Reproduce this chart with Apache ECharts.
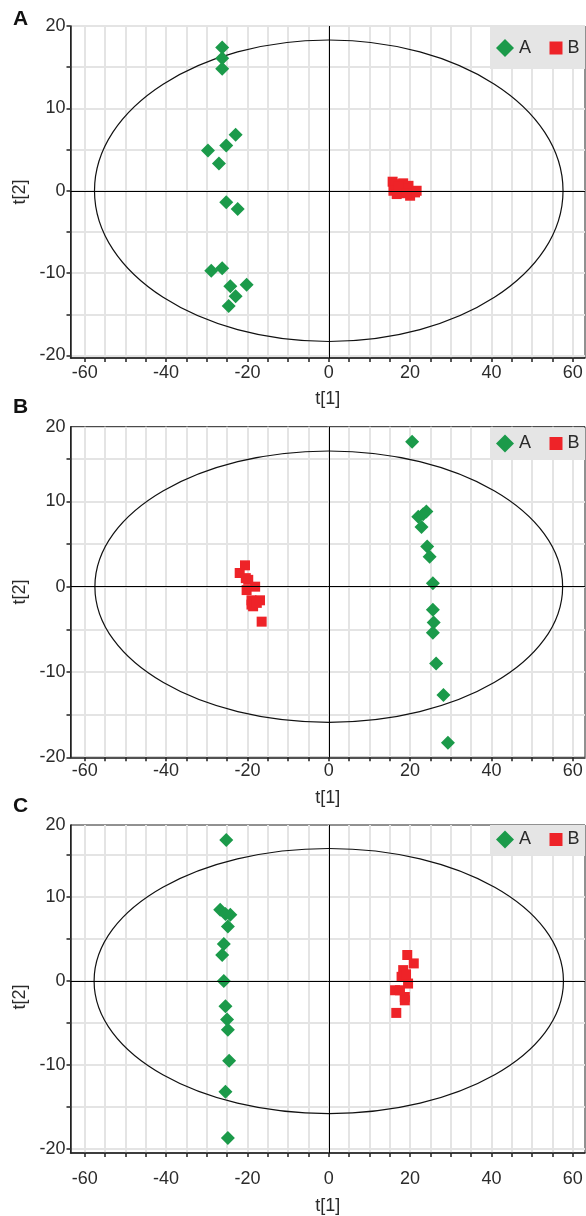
<!DOCTYPE html>
<html><head><meta charset="utf-8">
<script src="https://cdn.jsdelivr.net/npm/echarts@6/dist/echarts.min.js"></script>
<style>html,body{margin:0;padding:0;background:#fff}#c{width:586px;height:1216px}</style>
</head><body><div id="c"></div><script>
// ---- data ----
const panelLetters = ['A', 'B', 'C'];
const groupNames = ['A', 'B'];
const xTickValues = [-60,-55,-50,-45,-40,-35,-30,-25,-20,-15,-10,-5,0,5,10,15,20,25,30,35,40,45,50,55,60];
const xLabelValues = [-60,-40,-20,0,20,40,60];
const yTickValues = [-20,-15,-10,-5,0,5,10,15,20];
const yLabelTexts = ['-20','-10','0','10','20'];
const yLabelValuesA = [-20,-10,0,10,20];
const yLabelValuesB = [-20,-10,0,10,18.75];
const yLabelValuesC = [-20,-10,0,10,18.6];
const xTitle = 't[1]';
const yTitle = 't[2]';

const panelA_A = [[-26.2,17.4],[-26.2,16.1],[-26.2,14.8],[-22.9,6.8],[-25.2,5.5],[-29.7,4.9],[-27.0,3.3],
  [-25.2,-1.4],[-22.4,-2.2],[-28.9,-9.7],[-26.2,-9.4],[-20.2,-11.4],[-24.2,-11.6],[-22.9,-12.8],[-24.6,-14.0]];
const panelA_B = [[15.7,1.1],[16.5,0.8],[18.3,0.9],[19.6,0.6],[21.6,0.0],[15.9,0.0],[17.5,-0.2],
  [16.7,-0.4],[20.0,-0.6],[21.2,-0.2],[18.8,0.3],[17.2,0.5],[19.0,-0.3]];
const panelB_A = [[20.5,17.0],[24.0,8.8],[22.0,8.2],[23.2,8.5],[22.8,7.0],[24.2,4.7],[24.8,3.5],[25.6,0.4],
  [25.6,-2.7],[25.8,-4.2],[25.6,-5.4],[26.4,-9.0],[28.2,-12.7],[29.3,-18.3]];
const panelB_B = [[-20.6,2.5],[-21.9,1.6],[-19.8,0.8],[-18.1,0.0],[-20.2,-0.4],[-16.9,-1.6],[-19.0,-1.6],
  [-18.6,-2.3],[-19.0,-2.1],[-17.7,-1.9],[-16.5,-4.1],[-20.4,1.0]];
const panelC_A = [[-25.2,16.8],[-26.7,8.5],[-25.4,8.0],[-24.2,7.9],[-24.8,6.5],[-25.8,4.4],[-26.2,3.1],
  [-25.8,0.0],[-25.4,-3.0],[-25.0,-4.6],[-24.8,-5.8],[-24.5,-9.5],[-25.4,-13.2],[-24.8,-18.7]];
const panelC_B = [[19.3,3.1],[20.9,2.1],[18.3,1.3],[17.9,0.5],[19.5,-0.3],[16.3,-1.1],[18.7,-1.9],
  [17.5,-1.1],[16.6,-3.8],[18.7,-2.3],[19.0,0.8]];
// Hotelling ellipse semi-axes (t1, t2)
const ellipseAxes = [[57.6, 18.3], [57.5, 15.9], [57.7, 15.8]];

// ---- layout ----
const FONT = 'Liberation Sans, Arial, sans-serif';
const GREEN = '#1b9a4a', RED = '#ee2328', AXIS = '#222', GRIDC = '#e4e4e4', TXT = '#2b2b2b';
const panels = [
  {A: panelA_A, B: panelA_B, top: 26, height: 332, ymin: -20.3, ymax: 20, ylab: yLabelValuesA, lblMargin: 6, nameGap: 32, yPad: [0,0,0,0], titleTop: 9, legTop: 27, legH: 42, legCy: 48},
  {A: panelB_A, B: panelB_B, top: 426.7, height: 330.6, ymin: -20, ymax: 18.75, ylab: yLabelValuesB, lblMargin: 5, nameGap: 32, yPad: [0,0,0,0], titleTop: 397, legTop: 428, legH: 32, legCy: 443.5},
  {A: panelC_A, B: panelC_B, top: 825, height: 328.3, ymin: -20.5, ymax: 18.6, ylab: yLabelValuesC, lblMargin: 17, nameGap: 44, yPad: [0,16,0,0], titleTop: 796, legTop: 825, legH: 30, legCy: 839.5}
];

const option = {animation: false, backgroundColor: '#fff', grid: [], xAxis: [], yAxis: [], series: [], title: [], legend: [], graphic: []};

panels.forEach((p, i) => {
  option.grid.push({left: 70.5, width: 514.5, top: p.top, height: p.height, show: true, borderColor: AXIS, borderWidth: 1, backgroundColor: 'transparent'});
  option.xAxis.push({
    type: 'value', gridIndex: i, min: -63.5, max: 63,
    name: xTitle, nameLocation: 'middle', nameGap: p.nameGap,
    nameTextStyle: {fontFamily: FONT, fontSize: 18, color: TXT},
    axisLine: {onZero: false, lineStyle: {color: AXIS, width: 1.5}},
    axisTick: {customValues: xTickValues, length: 4, lineStyle: {color: AXIS, width: 1.5}},
    axisLabel: {customValues: xLabelValues, margin: p.lblMargin, fontFamily: FONT, fontSize: 18, color: TXT},
    splitLine: {show: true, lineStyle: {color: GRIDC, width: 2}}
  });
  const labVals = p.ylab;
  option.yAxis.push({
    type: 'value', gridIndex: i, min: p.ymin, max: p.ymax,
    name: yTitle, nameLocation: 'middle', nameGap: 23, nameRotate: 90,
    nameTextStyle: {fontFamily: FONT, fontSize: 18, color: TXT, padding: p.yPad},
    axisLine: {onZero: false, lineStyle: {color: AXIS, width: 1.5}},
    axisTick: {customValues: yTickValues.filter(v => v >= p.ymin && v <= p.ymax), length: 4, lineStyle: {color: AXIS, width: 1.5}},
    axisLabel: {customValues: labVals, margin: 5, fontFamily: FONT, fontSize: 18, color: TXT,
      formatter: v => yLabelTexts[labVals.indexOf(v)]},
    splitLine: {show: true, lineStyle: {color: GRIDC, width: 2}}
  });
  option.title.push({text: panelLetters[i], left: 13, top: p.titleTop, padding: 0, textStyle: {fontFamily: FONT, fontSize: 21, fontWeight: 'bold', color: '#111'}});
  option.graphic.push({type: 'rect', z: 1, shape: {x: 490, y: p.legTop, width: 95, height: p.legH}, style: {fill: '#e5e5e5'}});
  const cy = p.legCy;
  option.legend.push({data: [{name: 'A', icon: 'diamond'}], left: 496, top: cy - 9, padding: 0, itemWidth: 18, itemHeight: 18,
    textStyle: {fontFamily: FONT, fontSize: 18, lineHeight: 18, color: TXT}, itemGap: 0, selectedMode: false});
  option.legend.push({data: [{name: 'B', icon: 'rect'}], left: 549.5, top: cy - 9, padding: 0, itemWidth: 13, itemHeight: 13,
    textStyle: {fontFamily: FONT, fontSize: 18, lineHeight: 18, color: TXT}, itemGap: 0, selectedMode: false});

  const ax = ellipseAxes[i];
  option.series.push({
    type: 'custom', xAxisIndex: i, yAxisIndex: i, data: [[0, 0]], silent: true, z: 2,
    renderItem: (params, api) => {
      const c = api.coord([0, 0]);
      const s = api.size([ax[0], ax[1]]);
      return {type: 'ellipse', shape: {cx: c[0], cy: c[1], rx: s[0], ry: s[1]}, style: {fill: 'none', stroke: '#111', lineWidth: 1.2}};
    },
    markLine: {silent: true, symbol: 'none', label: {show: false}, lineStyle: {color: '#000', width: 1, type: 'solid'},
      data: [{xAxis: 0}, {yAxis: 0}]}
  });
  option.series.push({name: groupNames[0], type: 'scatter', xAxisIndex: i, yAxisIndex: i, data: p.A,
    symbol: 'diamond', symbolSize: 14, itemStyle: {color: GREEN, opacity: 1}, z: 3});
  option.series.push({name: groupNames[1], type: 'scatter', xAxisIndex: i, yAxisIndex: i, data: p.B,
    symbol: 'rect', symbolSize: 10, itemStyle: {color: RED, opacity: 1}, z: 3});
});

const chart = echarts.init(document.getElementById('c'), null, {renderer: 'canvas', width: 586, height: 1216});
chart.setOption(option);
</script></body></html>
